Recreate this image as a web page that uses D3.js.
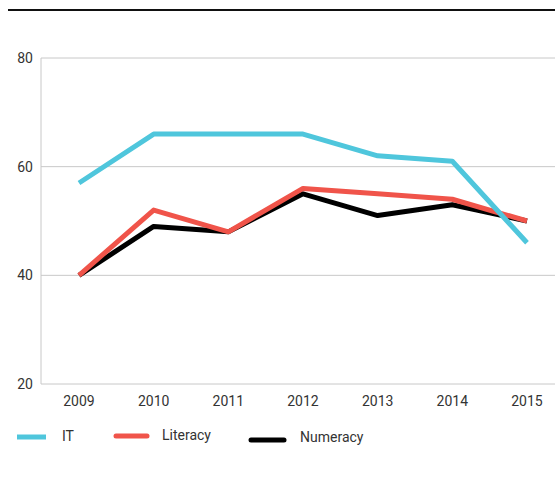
<!DOCTYPE html>
<html>
<head>
<meta charset="utf-8">
<script src="https://cdn.jsdelivr.net/npm/d3@7"></script>
<style>
  body { margin: 0; background: #fff; }
  svg text { font-family: Roboto, "DejaVu Sans", sans-serif; fill: #333; }
</style>
</head>
<body>
<div id="chart"></div>
<script>
const years = ["2009", "2010", "2011", "2012", "2013", "2014", "2015"];
const itValues = [57, 66, 66, 66, 62, 61, 46];
const literacyValues = [40, 52, 48, 56, 55, 54, 50];
const numeracyValues = [40, 49, 48, 55, 51, 53, 50];
const yTicks = [20, 40, 60, 80];

const series = [
    { name: "IT", values: itValues, color: "#4fc6dc" },
    { name: "Literacy", values: literacyValues, color: "#f0544a" },
    { name: "Numeracy", values: numeracyValues, color: "#000000" }
];

const svgWidth = 555;
const svgHeight = 483;
const margin = { top: 58, right: 0, bottom: 99, left: 41 };
const height = svgHeight - margin.top - margin.bottom;

const svg = d3.select("#chart")
    .append("svg")
    .attr("width", svgWidth)
    .attr("height", svgHeight);

// heavy rule on top
svg.append("line")
    .attr("x1", 8).attr("x2", svgWidth)
    .attr("y1", 10).attr("y2", 10)
    .attr("stroke", "#111")
    .attr("stroke-width", 2);

const xScale = d3.scalePoint().domain(years).range([79, 527]);
const yScale = d3.scaleLinear().domain([20, 80]).range([margin.top + height, margin.top]);

// grid
svg.append("g")
    .selectAll("line")
    .data(yTicks)
    .enter()
    .append("line")
    .attr("x1", margin.left)
    .attr("x2", svgWidth)
    .attr("y1", d => yScale(d))
    .attr("y2", d => yScale(d))
    .attr("stroke", "#c8c8c8")
    .attr("stroke-width", 1);

svg.append("line")
    .attr("x1", margin.left).attr("x2", margin.left)
    .attr("y1", yScale(80)).attr("y2", yScale(20))
    .attr("stroke", "#c8c8c8")
    .attr("stroke-width", 1);

// y labels
svg.append("g")
    .selectAll("text")
    .data(yTicks)
    .enter()
    .append("text")
    .attr("x", 33)
    .attr("y", d => yScale(d))
    .attr("dy", "0.35em")
    .attr("text-anchor", "end")
    .attr("font-size", "14px")
    .text(d => d);

// x labels
svg.append("g")
    .selectAll("text")
    .data(years)
    .enter()
    .append("text")
    .attr("x", d => xScale(d))
    .attr("y", 406)
    .attr("text-anchor", "middle")
    .attr("font-size", "14px")
    .text(d => d);

const line = d3.line()
    .x((d, i) => xScale(years[i]))
    .y(d => yScale(d));

// draw numeracy first, then literacy, then IT on top
[series[2], series[1], series[0]].forEach(s => {
    svg.append("path")
        .datum(s.values)
        .attr("fill", "none")
        .attr("stroke", s.color)
        .attr("stroke-width", 5)
        .attr("stroke-linejoin", "round")
        .attr("d", line);
});

// legend
const legendItems = [
    { x1: 17, x2: 46, tx: 62, ty: 441, cap: "butt" },
    { x1: 116, x2: 147, tx: 162, ty: 440, cap: "round" },
    { x1: 251, x2: 284, tx: 300, ty: 442, cap: "round" }
];

series.forEach((s, i) => {
    const li = legendItems[i];
    svg.append("line")
        .attr("x1", li.x1).attr("x2", li.x2)
        .attr("y1", li.ty - 4 + (i === 2 ? 2 : 0)).attr("y2", li.ty - 4 + (i === 2 ? 2 : 0))
        .attr("stroke", s.color)
        .attr("stroke-width", 5)
        .attr("stroke-linecap", li.cap);
    svg.append("text")
        .attr("x", li.tx)
        .attr("y", li.ty)
        .attr("font-size", "14px")
        .text(s.name);
});
</script>
</body>
</html>
